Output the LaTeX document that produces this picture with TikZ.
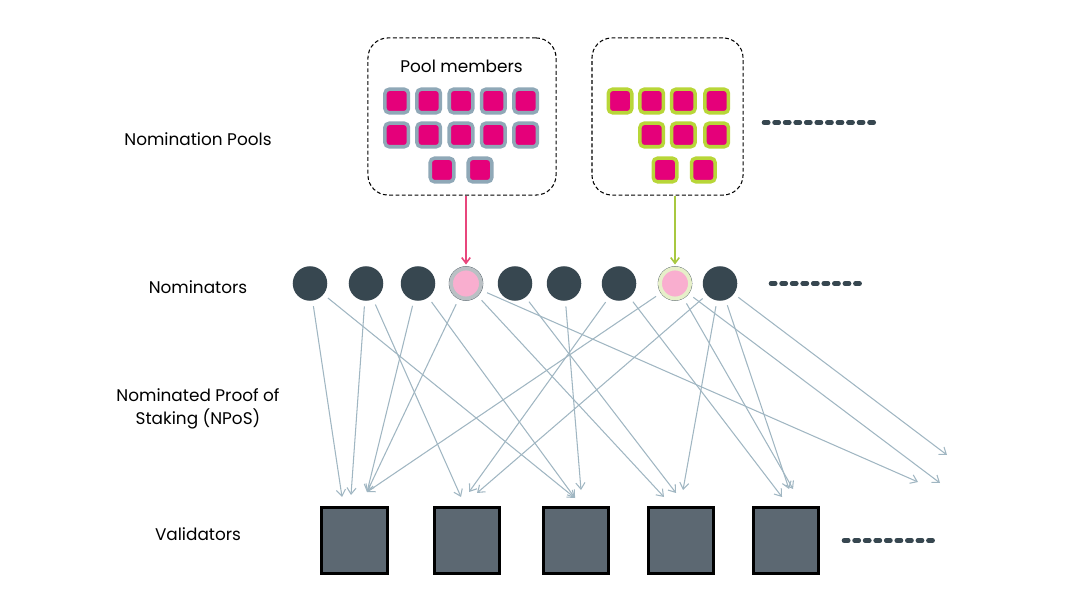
\documentclass[tikz,border=0pt]{standalone}
\usepackage{fontspec}
\setmainfont{Poppins}
\usetikzlibrary{positioning,shapes,arrows.meta}

\definecolor{nomdark}{RGB}{55,71,80}
\definecolor{valfill}{RGB}{92,104,114}
\definecolor{memberpink}{RGB}{229,0,122}
\definecolor{membergrey}{RGB}{143,168,183}
\definecolor{membergreen}{RGB}{184,214,56}
\definecolor{poolpink}{RGB}{249,174,207}
\definecolor{ringgrey}{RGB}{186,192,196}
\definecolor{ringgreen}{RGB}{230,239,201}
\definecolor{linkblue}{RGB}{160,182,194}
\definecolor{arrowpink}{RGB}{232,70,124}
\definecolor{arrowgreen}{RGB}{168,200,64}

\begin{document}
\begin{tikzpicture}[x=0.01cm,y=-0.01cm,
	layer/.style={font=\fontsize{4.8}{6.6}\selectfont,align=center},
	nominator/.style={circle,fill=nomdark,minimum size=0.345cm,inner sep=0pt},
	poolnom/.style={circle,fill=poolpink,draw=#1,line width=1.1pt,minimum size=0.30cm,inner sep=0pt},
	validator/.style={draw=black,fill=valfill,line width=0.95pt,minimum size=0.655cm,inner sep=0pt},
	member/.style={draw=#1,fill=memberpink,line width=1pt,rounded corners=1.2pt,minimum size=0.235cm,inner sep=0pt},
	poolbox/.style={draw,dash pattern=on 1.1pt off 0.7pt,line width=0.3pt,rounded corners=0.2cm,minimum height=1.57cm,inner sep=0pt},
	link/.style={draw=linkblue,line width=0.3pt,-{Straight Barb[length=1.8pt,width=2.6pt]},shorten <=0.05cm},
	poolarrow/.style={draw=#1,line width=0.45pt,-{Straight Barb[length=1.6pt,width=2.4pt]},shorten >=0.01cm},
	morelist/.style={draw=nomdark,line width=1.3pt,line cap=round,dash pattern=on 1.2pt off 1.8pt}
	]
	\useasboundingbox (0,0) rectangle (1080,604);

	% layer names
	\node[layer] (lpools) at (198,139) {Nomination Pools};
	\node[layer] (lnoms) at (198,287) {Nominators};
	\node[layer] (lnpos) at (198,409) {Nominated Proof of\\Staking (NPoS)};
	\node[layer] (lvals) at (198,534) {Validators};

	% pools
	\node[poolbox,minimum width=1.88cm] (pool1) at (462,116.5) {};
	\node[poolbox,minimum width=1.51cm] (pool2) at (667.5,116.5) {};
	\node[layer,font=\fontsize{4.8}{6}\selectfont] (pm) at (461.5,66) {Pool members};
	\foreach \x [count=\i] in {396.7,428.7,461,493.3,525.7}{
		\node[member=membergrey] (ma\i) at (\x,101) {};
		\node[member=membergrey] (mb\i) at (\x,135) {};
	}
	\node[member=membergrey] (mc1) at (442,170) {};
	\node[member=membergrey] (mc2) at (480,170) {};
	\foreach \x [count=\i] in {620,651.7,683.3,716.7}
		\node[member=membergreen] (ga\i) at (\x,101) {};
	\foreach \x [count=\i] in {651.7,683.3,716.7}
		\node[member=membergreen] (gb\i) at (\x,135) {};
	\node[member=membergreen] (gc1) at (665,170) {};
	\node[member=membergreen] (gc2) at (703.3,170) {};

	% nominators
	\foreach \x [count=\i] in {310,366,418,466,515,564,619,675,720}
		\node[nominator] (n\i) at (\x,283.5) {};
	\node[poolnom=ringgrey] at (n4) {};
	\node[poolnom=ringgreen] at (n8) {};

	% validators
	\foreach \x [count=\i] in {354.5,467,576,681,786}
		\node[validator] (v\i) at (\x,540.5) {};

	% arrow ends
	\foreach \x/\y [count=\i] in {342/497,351/495,367/492,461/497,469/492,477/493,575/498,581/490,664/497,
		676/493,683/490,782/497,789/489,793/489,918/482,940/483,947/455}
		\coordinate (h\i) at (\x,\y);

	\path (pool1.south -| n4) edge[poolarrow=arrowpink] (n4)
	(pool2.south -| n8) edge[poolarrow=arrowgreen] (n8);

	\path (n1) edge[link] (h1)
	(n1) edge[link] (h7)
	(n2) edge[link] (h2)
	(n2) edge[link] (h4)
	(n3) edge[link] (h3)
	(n3) edge[link] (h7)
	(n4) edge[link] (h3)
	(n4) edge[link] (h9)
	(n4) edge[link] (h15)
	(n5) edge[link] (h10)
	(n6) edge[link] (h8)
	(n7) edge[link] (h5)
	(n7) edge[link] (h12)
	(n8) edge[link] (h3)
	(n8) edge[link] (h14)
	(n8) edge[link] (h16)
	(n9) edge[link] (h6)
	(n9) edge[link] (h11)
	(n9) edge[link] (h13)
	(n9) edge[link] (h17);

	% more of the same
	\draw[morelist] (764,122.5) -- (880,122.5);
	\draw[morelist] (771,283.5) -- (861,283.5);
	\draw[morelist] (844,540.5) -- (933,540.5);
\end{tikzpicture}
\end{document}
